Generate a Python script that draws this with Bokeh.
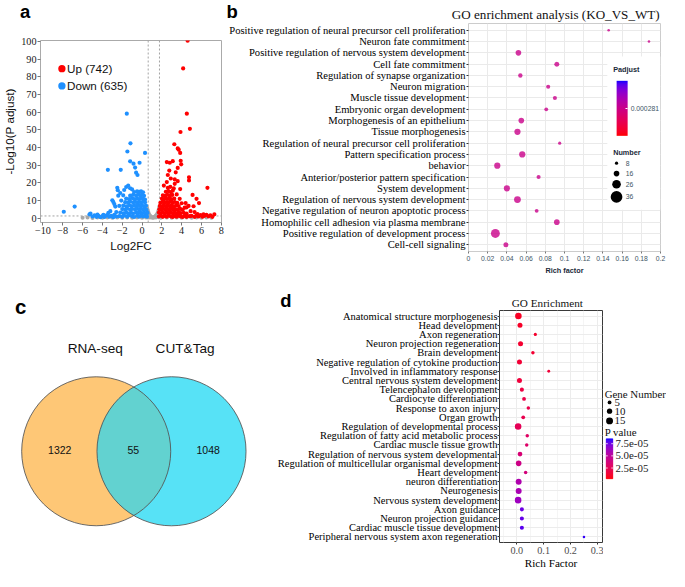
import math
import numpy as np
from bokeh.plotting import figure
from bokeh.layouts import row, column
from bokeh.models import (Range1d, FixedTicker, Span, Label, LinearAxis, ColorBar,
                          LinearColorMapper, PrintfTickFormatter, BoxAnnotation,
                          ColumnDataSource)
from bokeh.transform import transform
from bokeh.embed import file_html
from bokeh.resources import INLINE

S = 0.972
SERIF = "Liberation Serif"
SANS = "Liberation Sans"

# ======================= DATA =======================
# (a) volcano: (log2FC, -log10 P adjust)
up_points = [
    (1.7, 1.0), (1.9, 1.5), (2.1, 0.8), (2.3, 1.4), (2.5, 0.9), (2.7, 1.6), (2.9, 1.1), (3.1, 0.7),
    (3.3, 1.3), (3.5, 0.9), (3.7, 1.5), (3.9, 1.0), (4.1, 0.7), (4.3, 1.3), (4.5, 0.8), (4.8, 1.2),
    (1.7, 3.2), (1.9, 2.8), (2.1, 3.4), (2.3, 2.7), (2.5, 3.3), (2.7, 2.9), (2.9, 3.5), (3.1, 2.8),
    (3.3, 3.2), (3.5, 2.7), (3.7, 3.3), (3.9, 2.9), (4.2, 3.1), (4.5, 2.6),
    (1.75, 5.1), (1.95, 4.8), (2.15, 5.4), (2.35, 4.7), (2.55, 5.3), (2.75, 4.9), (2.95, 5.5),
    (3.15, 4.8), (3.35, 5.2), (3.6, 4.7), (3.85, 5.3), (4.1, 4.8),
    (1.8, 7.0), (2.0, 6.7), (2.2, 7.3), (2.4, 6.8), (2.6, 7.4), (2.8, 6.9), (3.0, 7.2), (3.2, 6.7),
    (3.45, 7.3), (3.7, 6.9),
    (1.85, 8.8), (2.05, 9.3), (2.25, 8.7), (2.45, 9.2), (2.65, 8.9), (2.85, 9.4), (3.05, 8.8),
    (3.3, 9.2), (3.55, 8.7),
    (2.0, 11.2), (2.2, 10.8), (2.4, 11.4), (2.6, 10.9), (2.8, 11.3), (3.0, 10.7), (3.25, 11.1),
    (2.1, 13.0), (2.35, 12.7), (2.55, 13.3), (2.8, 12.8), (3.05, 13.2),
    (2.4, 15.0), (2.65, 15.4), (2.9, 14.8), (3.1, 15.6),
    (2.6, 17.2), (2.85, 17.8), (3.2, 16.9),
    (3.85, 16.5), (3.5, 13.5), (3.8, 11.0), (4.0, 8.5), (4.3, 6.0), (4.4, 8.6), (4.7, 7.0),
    (4.5, 6.2), (5.2, 6.8), (5.75, 8.6), (5.1, 13.2), (5.5, 11.0), (6.6, 17.2), (4.9, 4.0),
    (5.3, 3.5), (3.3, 19.5), (2.5, 20.5), (2.9, 22.5), (3.6, 21.0), (2.2, 18.5),
    (4.6, 100.5), (4.15, 84.8), (4.52, 59.2), (3.88, 48.8), (4.83, 50.6), (3.26, 41.9),
    (3.6, 39.5), (3.7, 38.8), (3.85, 37.0), (3.9, 32.5), (3.95, 30.5), (2.5, 31.8), (2.8, 31.4),
    (3.1, 32.3), (2.75, 27.0), (2.6, 24.5), (3.4, 26.0), (3.6, 28.5), (4.74, 23.2), (4.74, 21.4),
    (3.3, 22.0), (7.3, 2.2),
    (5.0, 1.4), (5.3, 0.8), (5.5, 1.5), (5.7, 1.0), (5.9, 1.8), (6.1, 0.9), (6.3, 1.4), (6.5, 2.0),
    (6.7, 1.1), (6.9, 1.6), (7.1, 0.8), (5.6, 2.3), (6.2, 2.2),
]
down_points = [
    (-2.3, 1.2), (-2.0, 0.8), (-1.8, 1.5), (-1.5, 0.9), (-1.3, 1.7), (-1.0, 1.1), (-0.8, 0.7),
    (-0.5, 1.4), (-0.3, 0.9), (-0.1, 1.6), (0.1, 1.0), (0.3, 1.3), (0.5, 0.9),
    (-2.2, 3.2), (-1.9, 2.8), (-1.6, 3.4), (-1.4, 2.6), (-1.1, 3.1), (-0.9, 2.7), (-0.6, 3.3),
    (-0.4, 2.9), (-0.2, 3.5), (0.0, 2.8), (0.2, 3.2), (0.4, 2.7), (0.55, 3.0),
    (-2.0, 5.2), (-1.7, 4.8), (-1.5, 5.5), (-1.2, 4.7), (-1.0, 5.3), (-0.7, 4.9), (-0.5, 5.6),
    (-0.3, 4.8), (-0.1, 5.4), (0.1, 4.9), (0.3, 5.3), (0.45, 4.7),
    (-1.9, 7.2), (-1.6, 6.8), (-1.3, 7.4), (-1.1, 6.9), (-0.8, 7.3), (-0.6, 6.7), (-0.4, 7.5),
    (-0.2, 6.9), (0.0, 7.3), (0.2, 6.8), (0.4, 7.1),
    (-1.7, 9.1), (-1.4, 8.8), (-1.2, 9.5), (-0.9, 8.9), (-0.7, 9.4), (-0.5, 8.7), (-0.3, 9.3),
    (-0.1, 8.8), (0.1, 9.4), (0.3, 9.0),
    (-1.6, 11.2), (-1.3, 10.8), (-1.0, 11.4), (-0.8, 10.9), (-0.5, 11.3), (-0.3, 10.7),
    (-0.1, 11.5), (0.1, 11.0), (0.3, 10.6),
    (-1.2, 12.8), (-0.9, 13.3), (-0.6, 12.9), (-0.4, 13.5), (-0.2, 13.0), (0.0, 13.4), (0.2, 12.7),
    (-0.8, 14.8), (-0.5, 15.3), (-0.3, 14.9), (-0.1, 15.2), (0.1, 14.7),
    (-2.5, 17.2), (-2.45, 15.9), (-2.4, 12.8), (-2.8, 8.0), (-2.7, 6.6), (-3.0, 10.2), (-2.9, 9.2),
    (-2.6, 3.5), (-2.8, 2.0), (-1.6, 17.7), (-1.4, 18.5), (-1.2, 17.0), (-1.0, 16.3), (-1.8, 16.0),
    (-2.2, 14.3), (-2.1, 10.0), (-2.3, 7.0), (-1.9, 13.0), (-3.2, 4.0), (-3.5, 1.8), (-3.4, 3.0),
    (-1.54, 59.2), (-1.17, 42.4), (-1.48, 37.8), (0.3, 37.0), (-1.2, 32.2), (-0.25, 31.4),
    (-0.86, 30.9), (-0.7, 28.7), (-0.46, 24.5), (-0.6, 25.8), (-3.45, 27.4), (-2.15, 27.4),
    (-7.9, 3.7), (-6.8, 6.6), (-5.3, 2.2), (-5.2, 2.7),
    (-5.0, 1.0), (-4.8, 1.6), (-4.6, 0.8), (-4.4, 1.4), (-4.2, 0.6), (-4.0, 1.2), (-3.8, 0.7),
    (-3.6, 1.5), (-3.3, 0.9), (-3.1, 1.3), (-2.9, 0.6), (-2.6, 1.0), (-4.5, 2.1), (-3.9, 2.0),
]
ns_points = [
    (0.55, 5.0), (0.6, 4.0), (0.65, 3.0), (0.7, 2.2), (0.8, 1.5), (0.9, 0.9), (1.0, 0.5),
    (1.1, 0.3), (1.2, 0.5), (1.3, 0.9), (1.4, 1.5), (1.5, 2.3), (1.6, 3.2), (1.65, 4.2),
    (1.7, 5.2), (0.6, 2.0), (0.7, 1.0), (0.8, 0.4), (1.4, 0.4), (1.5, 1.0), (1.6, 1.8),
    (0.6, 0.5), (1.65, 0.6), (0.5, 6.0), (1.75, 6.5),
    (-6.0, 0.3), (-5.5, 0.5), (-5.0, 0.2), (-4.5, 0.4), (-4.0, 0.3), (-3.5, 0.4), (-3.0, 0.3),
    (-2.5, 0.4), (-2.0, 0.3), (-1.5, 0.4), (-1.0, 0.3), (-0.5, 0.4), (0.0, 0.3), (0.4, 0.4),
    (1.9, 0.3), (2.5, 0.4), (3.0, 0.3), (3.5, 0.4), (4.0, 0.3), (4.5, 0.4), (5.0, 0.3),
    (5.5, 0.4), (6.0, 0.3), (6.5, 0.4), (7.0, 0.3),
]
up_x = [p[0] for p in up_points]
up_y = [p[1] for p in up_points]
down_x = [p[0] for p in down_points]
down_y = [p[1] for p in down_points]
ns_x = [p[0] for p in ns_points]
ns_y = [p[1] for p in ns_points]
volcano_legend = ["Up (742)", "Down (635)"]
fc_cutoffs = [0.62, 1.76]
padj_cutoff = 1.3
a_xticks = [-10, -8, -6, -4, -2, 0, 2, 4, 6, 8]
a_yticks = [0, 10, 20, 30, 40, 50, 60, 70, 80, 90, 100]

# (b) GO enrichment analysis (KO_VS_WT)
b_title = "GO enrichment analysis (KO_VS_WT)"
b_terms = [
    "Positive regulation of neural precursor cell proliferation",
    "Neuron fate commitment",
    "Positive regulation of nervous system development",
    "Cell fate commitment",
    "Regulation of synapse organization",
    "Neuron migration",
    "Muscle tissue development",
    "Embryonic organ development",
    "Morphogenesis of an epithelium",
    "Tissue morphogenesis",
    "Regulation of neural precursor cell proliferation",
    "Pattern specification process",
    "behavior",
    "Anterior/posterior pattern specification",
    "System development",
    "Regulation of nervous system development",
    "Negative regulation of neuron apoptotic process",
    "Homophilic cell adhesion via plasma membrane",
    "Positive regulation of development process",
    "Cell-cell signaling",
]
b_rich = [0.146, 0.188, 0.052, 0.092, 0.054, 0.083, 0.090, 0.081, 0.055, 0.051,
          0.095, 0.056, 0.030, 0.073, 0.040, 0.051, 0.071, 0.092, 0.028, 0.039]
b_number = [6, 6, 16, 14, 12, 11, 11, 10, 16, 18, 8, 18, 18, 11, 18, 20, 10, 16, 27, 14]
b_padj = [0.000281] * 20
b_xticks = [0, 0.02, 0.04, 0.06, 0.08, 0.1, 0.12, 0.14, 0.16, 0.18, 0.2]
b_size_legend = [8, 16, 26, 36]
b_padj_ticks = [0.000281]

# (c) Venn
venn_sets = ["RNA-seq", "CUT&Tag"]
venn_counts = [1322, 55, 1048]

# (d) GO Enrichment
d_title = "GO Enrichment"
d_terms = [
    "Anatomical structure morphogenesis", "Head development", "Axon regeneration",
    "Neuron projection regeneration", "Brain development",
    "Negative regulation of cytokine production", "Involved in inflammatory response",
    "Central nervous system development", "Telencephalon development",
    "Cardiocyte differentiation", "Response to axon injury", "Organ growth",
    "Regulation of developmental process", "Regulation of fatty acid metabolic process",
    "Cardiac muscle tissue growth", "Regulation of nervous system developmental",
    "Regulation of multicellular organismal development", "Heart development",
    "neuron differentiation", "Neurogenesis", "Nervous system development",
    "Axon guidance", "Neuron projection guidance", "Cardiac muscle tissue development",
    "Peripheral nervous system axon regeneration",
]
d_rich = [0.006, 0.012, 0.069, 0.014, 0.060, 0.010, 0.119, 0.010, 0.019, 0.027, 0.043, 0.024,
          0.005, 0.039, 0.037, 0.012, 0.007, 0.033, 0.007, 0.007, 0.005, 0.019, 0.019, 0.019, 0.250]
d_genes = [14, 9, 3, 9, 4, 9, 2, 9, 6, 5, 4, 5, 14, 4, 4, 8, 11, 4, 12, 12, 14, 6, 6, 6, 1]
d_pvalue = [1.0e-5, 1.1e-5, 1.2e-5, 1.3e-5, 1.4e-5, 1.5e-5, 1.6e-5, 1.7e-5, 1.9e-5, 2.1e-5,
            2.2e-5, 2.3e-5, 2.6e-5, 3.0e-5, 3.2e-5, 3.6e-5, 4.3e-5, 3.9e-5, 5.7e-5, 5.9e-5,
            6.3e-5, 7.6e-5, 7.7e-5, 7.9e-5, 8.3e-5]
d_xticks = [0.0, 0.1, 0.2, 0.3]
d_size_legend = [5, 10, 15]
d_pticks = [2.5e-05, 5.0e-05, 7.5e-05]
d_ptick_labels = ["2.5e-05", "5.0e-05", "7.5e-05"]


# ======================= HELPERS =======================
def I(v):
    return int(round(v * S))


def F(v):
    return v * S


def fs(v):
    return f"{v * S:.2f}px"


def _s2l(c):
    c = c / 255.0
    return c / 12.92 if c <= 0.04045 else ((c + 0.055) / 1.055) ** 2.4


def _l2s(c):
    c = max(0.0, min(1.0, c))
    v = 12.92 * c if c <= 0.0031308 else 1.055 * c ** (1 / 2.4) - 0.055
    return int(round(max(0.0, min(1.0, v)) * 255))


def rgb_to_lab(rgb):
    r, g, b = [_s2l(c) for c in rgb]
    X = (0.4124 * r + 0.3576 * g + 0.1805 * b) / 0.95047
    Y = 0.2126 * r + 0.7152 * g + 0.0722 * b
    Z = (0.0193 * r + 0.1192 * g + 0.9505 * b) / 1.08883
    f = lambda t: t ** (1 / 3) if t > 216 / 24389 else (24389 / 27 * t + 16) / 116
    fx, fy, fz = f(X), f(Y), f(Z)
    return 116 * fy - 16, 500 * (fx - fy), 200 * (fy - fz)


def lab_to_hex(L, a, b):
    fy = (L + 16) / 116
    fx = fy + a / 500
    fz = fy - b / 200
    finv = lambda t: t ** 3 if t ** 3 > 216 / 24389 else (116 * t - 16) / (24389 / 27)
    X, Y, Z = 0.95047 * finv(fx), finv(fy), 1.08883 * finv(fz)
    r = 3.2406 * X - 1.5372 * Y - 0.4986 * Z
    g = -0.9689 * X + 1.8758 * Y + 0.0415 * Z
    bl = 0.0557 * X - 0.2040 * Y + 1.0570 * Z
    return "#%02x%02x%02x" % (_l2s(r), _l2s(g), _l2s(bl))


def lab_ramp(c0, c1, n=256):
    l0, l1 = rgb_to_lab(c0), rgb_to_lab(c1)
    return [lab_to_hex(*[l0[k] + (l1[k] - l0[k]) * i / (n - 1) for k in range(3)]) for i in range(n)]


RED_BLUE = lab_ramp((255, 0, 0), (0, 0, 255))


def make_fig(w, h, l, r, t, b, xr, yr, axes=True):
    kw = dict(width=I(w), height=I(h), x_range=xr, y_range=yr, output_backend="svg",
              toolbar_location=None, min_border_left=I(l), min_border_right=I(r),
              min_border_top=I(t), min_border_bottom=I(b), title=None)
    if not axes:
        kw.update(x_axis_type=None, y_axis_type=None)
    p = figure(**kw)
    p.background_fill_color = "white"
    p.border_fill_color = "white"
    try:
        p.frame_align = False
    except Exception:
        pass
    if not axes:
        p.outline_line_color = None
    return p


def blank(w, h):
    """A plain canvas whose frame is the whole figure, in reference pixels (y down)."""
    return make_fig(w, h, 0, 0, 0, 0, Range1d(0, w), Range1d(h, 0), axes=False)


def lab(p, x, y, text, font=SANS, size=12, style="normal", color="#111111",
        align="left", baseline="middle"):
    p.add_layout(Label(x=x, y=y, text=text, text_font=font, text_font_size=fs(size),
                       text_font_style=style, text_color=color, text_align=align,
                       text_baseline=baseline))


# ======================= PANEL A =======================
WA, HA, HDR1 = 232, 285, 24
aL, aR, aT, aB = 32, 226.5, 41, 228
ax0, ax1, ay0, ay1 = -10.25, 8.02, -2.4, 100.6


def a_x(X):
    return ax0 + (X - aL) * (ax1 - ax0) / (aR - aL)


def a_y(Y):
    return ay1 - (Y - aT) * (ay1 - ay0) / (aB - aT)


hdr_a = blank(WA, HDR1)
lab(hdr_a, 20, 11, "a", SANS, 19, "bold", "#000000")

pa = make_fig(WA, HA - HDR1, aL, WA - aR, aT - HDR1, HA - aB, Range1d(ax0, ax1),
              Range1d(ay0, ay1))
pa.grid.visible = False
pa.outline_line_color = "#aaaaaa"
for ax in (pa.xaxis[0], pa.yaxis[0]):
    ax.axis_line_color = None
    ax.major_tick_line_color = "#777777"
    ax.major_tick_out = I(3)
    ax.major_tick_in = 0
    ax.minor_tick_line_color = None
    ax.major_label_text_font = SERIF
    ax.major_label_text_font_size = fs(10.5)
    ax.major_label_text_color = "#222222"
    ax.axis_label_text_font = SANS
    ax.axis_label_text_font_size = fs(12)
    ax.axis_label_text_font_style = "normal"
    ax.axis_label_text_color = "#111111"
    ax.major_label_standoff = I(1)
    ax.axis_label_standoff = I(2)
pa.xaxis.ticker = FixedTicker(ticks=a_xticks)
pa.yaxis.ticker = FixedTicker(ticks=a_yticks)
pa.xaxis.axis_label = "Log2FC"
pa.yaxis.axis_label = "-Log10(P adjust)"
for v in fc_cutoffs:
    pa.add_layout(Span(location=v, dimension="height", line_color="#a0a0a0",
                       line_dash="2 2", line_width=F(1), level="underlay"))
pa.add_layout(Span(location=padj_cutoff, dimension="width", line_color="#a0a0a0",
                   line_dash="2 2", line_width=F(1), level="underlay"))
pa.scatter(ns_x, ns_y, size=F(4.2), fill_color="#a9a9a9", line_color=None)
pa.scatter(down_x, down_y, size=F(4.3), fill_color="#1E90FF", line_color=None)
pa.scatter(up_x, up_y, size=F(4.3), fill_color="#FF0000", line_color=None)
for i, (txt, col) in enumerate(zip(volcano_legend, ["#FF0000", "#1E90FF"])):
    Yc = 70 + i * 17.7
    pa.scatter([a_x(55)], [a_y(Yc)], size=F(7.5), fill_color=col, line_color=None)
    lab(pa, a_x(60.5), a_y(Yc), txt, SANS, 12)

# ======================= PANEL B =======================
WB, HB = 453, 285
X0B = 232
bL, bR, bT, bB = 480.3, 679, 24, 259
NB = len(b_terms)
by0, by1 = 0.4, NB + 0.6


def b_x(X):
    return (X - bL) * 0.2 / (bR - bL)


def b_y(Y):
    return by1 - (Y - bT) * (by1 - by0) / (bB - bT)


hdr_b = blank(WB, HDR1)
lab(hdr_b, 0, 11, "b", SANS, 19, "bold", "#000000")
lab(hdr_b, 571 - X0B, 14.5, b_title, SERIF, 13.5, align="center")

pb = make_fig(WB, HB - HDR1, bL - X0B, X0B + WB - bR, bT - HDR1, HB - bB, Range1d(0, 0.2),
              Range1d(by0, by1))
pb.outline_line_color = "#cccccc"
b_rows = [NB - i for i in range(NB)]
pb.yaxis.ticker = FixedTicker(ticks=b_rows)
pb.yaxis.major_label_overrides = {r: t for r, t in zip(b_rows, b_terms)}
pb.xaxis.ticker = FixedTicker(ticks=b_xticks)
pb.xaxis.formatter = PrintfTickFormatter(format="%g")
pb.xgrid.ticker = FixedTicker(ticks=b_xticks)
pb.ygrid.ticker = FixedTicker(ticks=b_rows)
pb.grid.grid_line_color = "#e9e9e9"
pb.grid.grid_line_width = F(1)
yb = pb.yaxis[0]
yb.axis_line_color = None
yb.major_tick_line_color = "#333333"
yb.major_tick_out = I(2.5)
yb.major_tick_in = 0
yb.minor_tick_line_color = None
yb.major_label_text_font = SERIF
yb.major_label_text_font_size = fs(10.9)
yb.major_label_text_color = "#000000"
yb.major_label_standoff = I(1)
xb = pb.xaxis[0]
xb.axis_line_color = None
xb.major_tick_line_color = "#777777"
xb.major_tick_out = I(2)
xb.major_tick_in = 0
xb.minor_tick_line_color = None
xb.major_label_text_font = SANS
xb.major_label_text_font_size = fs(7)
xb.major_label_text_color = "#3d5566"
xb.major_label_standoff = I(2)
xb.axis_label = "Rich factor"
xb.axis_label_text_font = SANS
xb.axis_label_text_font_size = fs(7.5)
xb.axis_label_text_font_style = "bold"
xb.axis_label_text_color = "#1a2a3a"
xb.axis_label_standoff = I(2)
pb.add_layout(LinearAxis(ticker=FixedTicker(ticks=[]), axis_line_color="#bbbbbb",
                         major_tick_line_color=None, minor_tick_line_color=None,
                         major_label_text_font_size="0px"), "below")

mapper_b = LinearColorMapper(palette=RED_BLUE, low=0.000262, high=0.000300)
src_b = ColumnDataSource(dict(x=b_rich, y=b_rows, n=b_number, padj=b_padj,
                              size=[F(3.3 + (n - 8) * 0.31) for n in b_number]))
pb.scatter("x", "y", size="size", source=src_b, fill_color=transform("padj", mapper_b),
           fill_alpha=0.8, line_color=None)

pb.add_layout(BoxAnnotation(left=b_x(624), right=b_x(679), top=b_y(58), bottom=b_y(216),
                            fill_color="white", fill_alpha=1.0, line_color=None,
                            level="underlay"))
cb_b = ColorBar(color_mapper=mapper_b, orientation="vertical", width=I(11.6), height=I(57),
                location=(F(632.7 - bL), F(bB - 140)), padding=0,
                ticker=FixedTicker(ticks=b_padj_ticks),
                formatter=PrintfTickFormatter(format="%.6f"),
                major_label_text_font=SANS, major_label_text_font_size=fs(7),
                major_label_text_color="#3d5566", label_standoff=I(3.5),
                major_tick_line_color="white", major_tick_in=I(2.5), major_tick_out=0,
                minor_tick_line_color=None, bar_line_color=None,
                background_fill_alpha=0.0, border_line_color=None)
pb.add_layout(cb_b, "center")
lab(pb, b_x(630), b_y(71.7), "Padjust", SANS, 7.5, "bold", "#1a2a3a")
lab(pb, b_x(630), b_y(157), "Number", SANS, 7.5, "bold", "#1a2a3a")
b_leg_y = [168, 178.7, 189.7, 202.7]
for n, Yc in zip(b_size_legend, b_leg_y):
    pb.scatter([b_x(633.5)], [b_y(Yc)], size=F(3.3 + (n - 8) * 0.31), fill_color="black",
               line_color=None)
    lab(pb, b_x(643), b_y(Yc), str(n), SANS, 7, "normal", "#3d5566")

# ======================= PANEL C =======================
WC, H2 = 282, 302
Y0 = 285
pc = blank(WC, H2)
c1x, c2x, ccy, rad = 98.5, 176.0, 463.5 - Y0, 76.7
half = (c2x - c1x) / 2
theta = math.acos(half / rad)
a1 = np.linspace(-theta, theta, 80)
a2 = np.linspace(math.pi - theta, math.pi + theta, 80)
lens_x = list(c1x + rad * np.cos(a1)) + list(c2x + rad * np.cos(a2))
lens_y = list(ccy + rad * np.sin(a1)) + list(ccy + rad * np.sin(a2))
pc.circle(x=[c1x], y=[ccy], radius=rad, fill_color="#FEC776", line_color=None)
pc.circle(x=[c2x], y=[ccy], radius=rad, fill_color="#57E2F6", line_color=None)
pc.patch(lens_x, lens_y, fill_color="#62D2D0", line_color=None)
pc.circle(x=[c1x, c2x], y=[ccy, ccy], radius=rad, fill_color=None, line_color="#555555",
          line_width=F(0.9))
lab(pc, 97.5, 358 - Y0, venn_sets[0], SANS, 14, align="center")
lab(pc, 190, 358 - Y0, venn_sets[1], SANS, 14, align="center")
for xc, cnt in zip([61, 136.7, 213.7], venn_counts):
    lab(pc, xc, 461.7 - Y0, str(cnt), SANS, 10.8, align="center")
lab(pc, 15, 315.5 - Y0, "c", SANS, 21, "bold", "#000000")

# ======================= PANEL D =======================
X0D = 282
WD = 338.5
HDR2 = 33.5
dL, dR, dT, dB = 512, 619.3, 318.5, 564.5
ND = len(d_terms)
dx0, dx1 = (dL - 530) / 280.0, (dR - 530) / 280.0
dy0, dy1 = 0.4, ND + 0.6

hdr_d = blank(WD, HDR2)
lab(hdr_d, 288 - X0D, 23, "d", SANS, 19, "bold", "#000000")
lab(hdr_d, 562.7 - X0D, 310.7 - Y0, d_title, SERIF, 11.5, align="center")

pd_ = make_fig(WD, H2 - HDR2, dL - X0D, X0D + WD - dR, dT - Y0 - HDR2, Y0 + H2 - dB,
               Range1d(dx0, dx1), Range1d(dy0, dy1))
pd_.outline_line_color = "#333333"
pd_.outline_line_width = F(1)
d_rows = [ND - i for i in range(ND)]
pd_.yaxis.ticker = FixedTicker(ticks=d_rows)
pd_.yaxis.major_label_overrides = {r: t for r, t in zip(d_rows, d_terms)}
pd_.xaxis.ticker = FixedTicker(ticks=d_xticks, minor_ticks=[-0.05, 0.05, 0.15, 0.25])
pd_.xaxis.formatter = PrintfTickFormatter(format="%.1f")
pd_.xgrid.ticker = FixedTicker(ticks=d_xticks, minor_ticks=[-0.05, 0.05, 0.15, 0.25])
pd_.ygrid.ticker = FixedTicker(ticks=d_rows)
pd_.grid.grid_line_color = "#ebebeb"
pd_.grid.grid_line_width = F(1)
pd_.xgrid.minor_grid_line_color = "#f5f5f5"
for ax in (pd_.xaxis[0], pd_.yaxis[0]):
    ax.axis_line_color = None
    ax.major_tick_line_color = "#333333"
    ax.major_tick_out = I(2)
    ax.major_tick_in = 0
    ax.minor_tick_line_color = None
    ax.major_label_text_font = SERIF
    ax.major_label_standoff = 0
pd_.yaxis.major_label_text_font_size = fs(10.8)
pd_.yaxis.major_label_text_color = "#000000"
pd_.xaxis.major_label_text_font_size = fs(10.5)
pd_.xaxis.major_label_text_color = "#4d4d4d"
pd_.xaxis.axis_label = "Rich Factor"
pd_.xaxis.axis_label_text_font = SERIF
pd_.xaxis.axis_label_text_font_size = fs(11.5)
pd_.xaxis.axis_label_text_font_style = "normal"
pd_.xaxis.axis_label_text_color = "#000000"
pd_.xaxis.axis_label_standoff = 0

mapper_d = LinearColorMapper(palette=RED_BLUE, low=0.3e-5, high=8.5e-5)
src_d = ColumnDataSource(dict(x=d_rich, y=d_rows, g=d_genes, p=d_pvalue,
                              size=[F(2.3 + 0.32 * g) for g in d_genes]))
pd_.scatter("x", "y", size="size", source=src_d, fill_color=transform("p", mapper_d),
            line_color=None)

# legend strip of panel d (reference pixels, y down)
X0L = X0D + WD
WL = 685 - X0L
pl = blank(WL, H2)
lab(pl, 621.7 - X0L, 404.3 - Y0, "Gene Number", SERIF, 11.2)
for g, Yc in zip(d_size_legend, [413.3, 422.3, 432.3]):
    pl.scatter([626.7 - X0L], [Yc - Y0], size=F(2.3 + 0.32 * g), fill_color="black",
               line_color=None)
    lab(pl, 631.7 - X0L, Yc - Y0, str(g), SERIF, 11.2)
lab(pl, 621.7 - X0L, 444 - Y0, "P value", SERIF, 11.2)
# colour bar of P value, drawn as thin slices coloured by the same mapper
cb_l, cb_r, cb_t, cb_b2 = 623.3 - X0L, 630 - X0L, 450.7 - Y0, 491.7 - Y0
n_sl = 60
lo, hi = mapper_d.low, mapper_d.high
sl_val = [lo + (i + 0.5) * (hi - lo) / n_sl for i in range(n_sl)]
sl_bot = [cb_b2 - i * (cb_b2 - cb_t) / n_sl for i in range(n_sl)]
sl_top = [cb_b2 - (i + 1) * (cb_b2 - cb_t) / n_sl for i in range(n_sl)]
src_sl = ColumnDataSource(dict(top=sl_top, bottom=sl_bot, v=sl_val,
                               left=[cb_l] * n_sl, right=[cb_r] * n_sl))
pl.quad(left="left", right="right", top="top", bottom="bottom", source=src_sl,
        fill_color=transform("v", mapper_d), line_color=transform("v", mapper_d),
        line_width=0.6)
tick_y = [cb_b2 - (t - lo) / (hi - lo) * (cb_b2 - cb_t) for t in d_pticks]
pl.segment(x0=[cb_l] * 3, x1=[cb_l + 1.4] * 3, y0=tick_y, y1=tick_y, line_color="white",
           line_width=F(1))
pl.segment(x0=[cb_r - 1.4] * 3, x1=[cb_r] * 3, y0=tick_y, y1=tick_y, line_color="white",
           line_width=F(1))
for ty, tl in zip(tick_y, d_ptick_labels):
    lab(pl, cb_r + 2.7, ty, tl, SERIF, 11.2, color="#222222")

layout = column(
    row(column(hdr_a, pa), column(hdr_b, pb)),
    row(pc, column(hdr_d, pd_), pl),
)
open("out.html", "w").write(file_html(layout, INLINE))
